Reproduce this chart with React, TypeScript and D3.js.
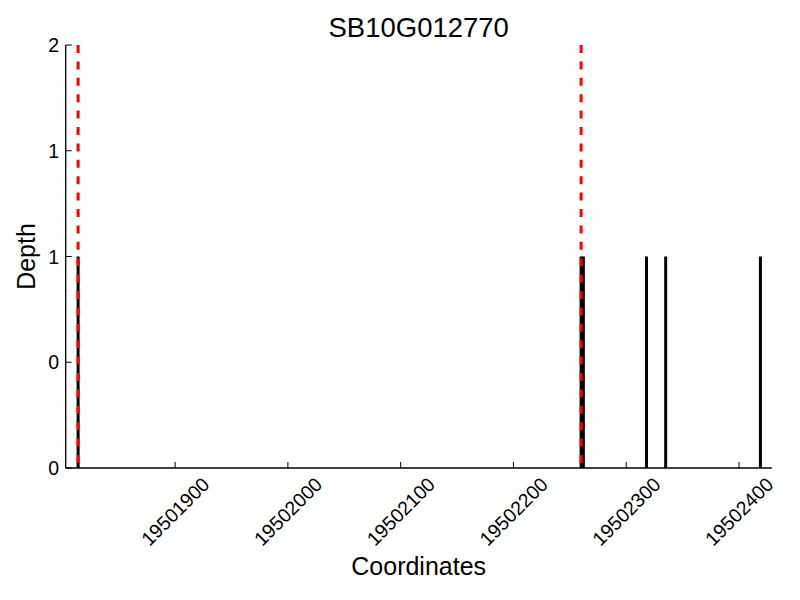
import React from "react";
import * as d3 from "d3";

const title = "SB10G012770";
const xLabel = "Coordinates";
const yLabel = "Depth";
const xDomain = [19501803, 19502429];
const yDomain = [0, 2];
const xTicks = [19501900, 19502000, 19502100, 19502200, 19502300, 19502400];
const yTicks = [0, 0.5, 1, 1.5, 2];
const yTickLabels = ["0", "0", "1", "1", "2"];
const positions = [19501814, 19502260, 19502262, 19502318, 19502335, 19502419];
const depths = [1, 1, 1, 1, 1, 1];
const boundaries = [19501814, 19502260];

const W = 800;
const H = 600;
const left = 65.7;
const right = 771.7;
const top = 45;
const bottom = 468;
const font = "'Liberation Sans', Arial, Helvetica, sans-serif";

export default function App() {
  const x = d3.scaleLinear().domain(xDomain).range([left, right]);
  const y = d3.scaleLinear().domain(yDomain).range([bottom, top]);
  return (
    <svg
      width={W}
      height={H}
      style={{ position: "absolute", left: 0, top: 0, background: "#fff" }}
      fontFamily={font}
    >
      <rect x={0} y={0} width={W} height={H} fill="#fff" />
      {positions.map((p, i) => (
        <line
          key={"b" + i}
          x1={x(p)}
          x2={x(p)}
          y1={y(0)}
          y2={y(depths[i])}
          stroke="#000"
          strokeWidth={3}
        />
      ))}
      {boundaries.map((b, i) => (
        <line
          key={"r" + i}
          x1={x(b)}
          x2={x(b)}
          y1={y(yDomain[1])}
          y2={y(0)}
          stroke="#ff0000"
          strokeWidth={3}
          strokeDasharray="8,8.4"
        />
      ))}
      <line x1={left} x2={left} y1={top} y2={bottom} stroke="#000" strokeWidth={1.3} />
      <line x1={left} x2={right} y1={bottom} y2={bottom} stroke="#000" strokeWidth={1.3} />
      {yTicks.map((t, i) => (
        <g key={"yt" + i}>
          <line x1={left} x2={left + 6} y1={y(t)} y2={y(t)} stroke="#000" strokeWidth={1} />
          <text
            x={59}
            y={y(t)}
            textAnchor="end"
            dominantBaseline="central"
            fontSize={19.5}
            fill="#000"
          >
            {yTickLabels[i]}
          </text>
        </g>
      ))}
      {xTicks.map((t, i) => (
        <g key={"xt" + i}>
          <line x1={x(t)} x2={x(t)} y1={bottom} y2={bottom - 6} stroke="#000" strokeWidth={1} />
          <text
            transform={`translate(${x(t)},511.5) rotate(-45)`}
            textAnchor="middle"
            dominantBaseline="central"
            fontSize={19.5}
            fill="#000"
          >
            {t}
          </text>
        </g>
      ))}
      <text x={(left + right) / 2} y={37} textAnchor="middle" fontSize={27.5} fill="#000">
        {title}
      </text>
      <text x={(left + right) / 2} y={575} textAnchor="middle" fontSize={25} fill="#000">
        {xLabel}
      </text>
      <text
        transform={`translate(34.5,${(top + bottom) / 2}) rotate(-90)`}
        textAnchor="middle"
        fontSize={25}
        fill="#000"
      >
        {yLabel}
      </text>
    </svg>
  );
}
